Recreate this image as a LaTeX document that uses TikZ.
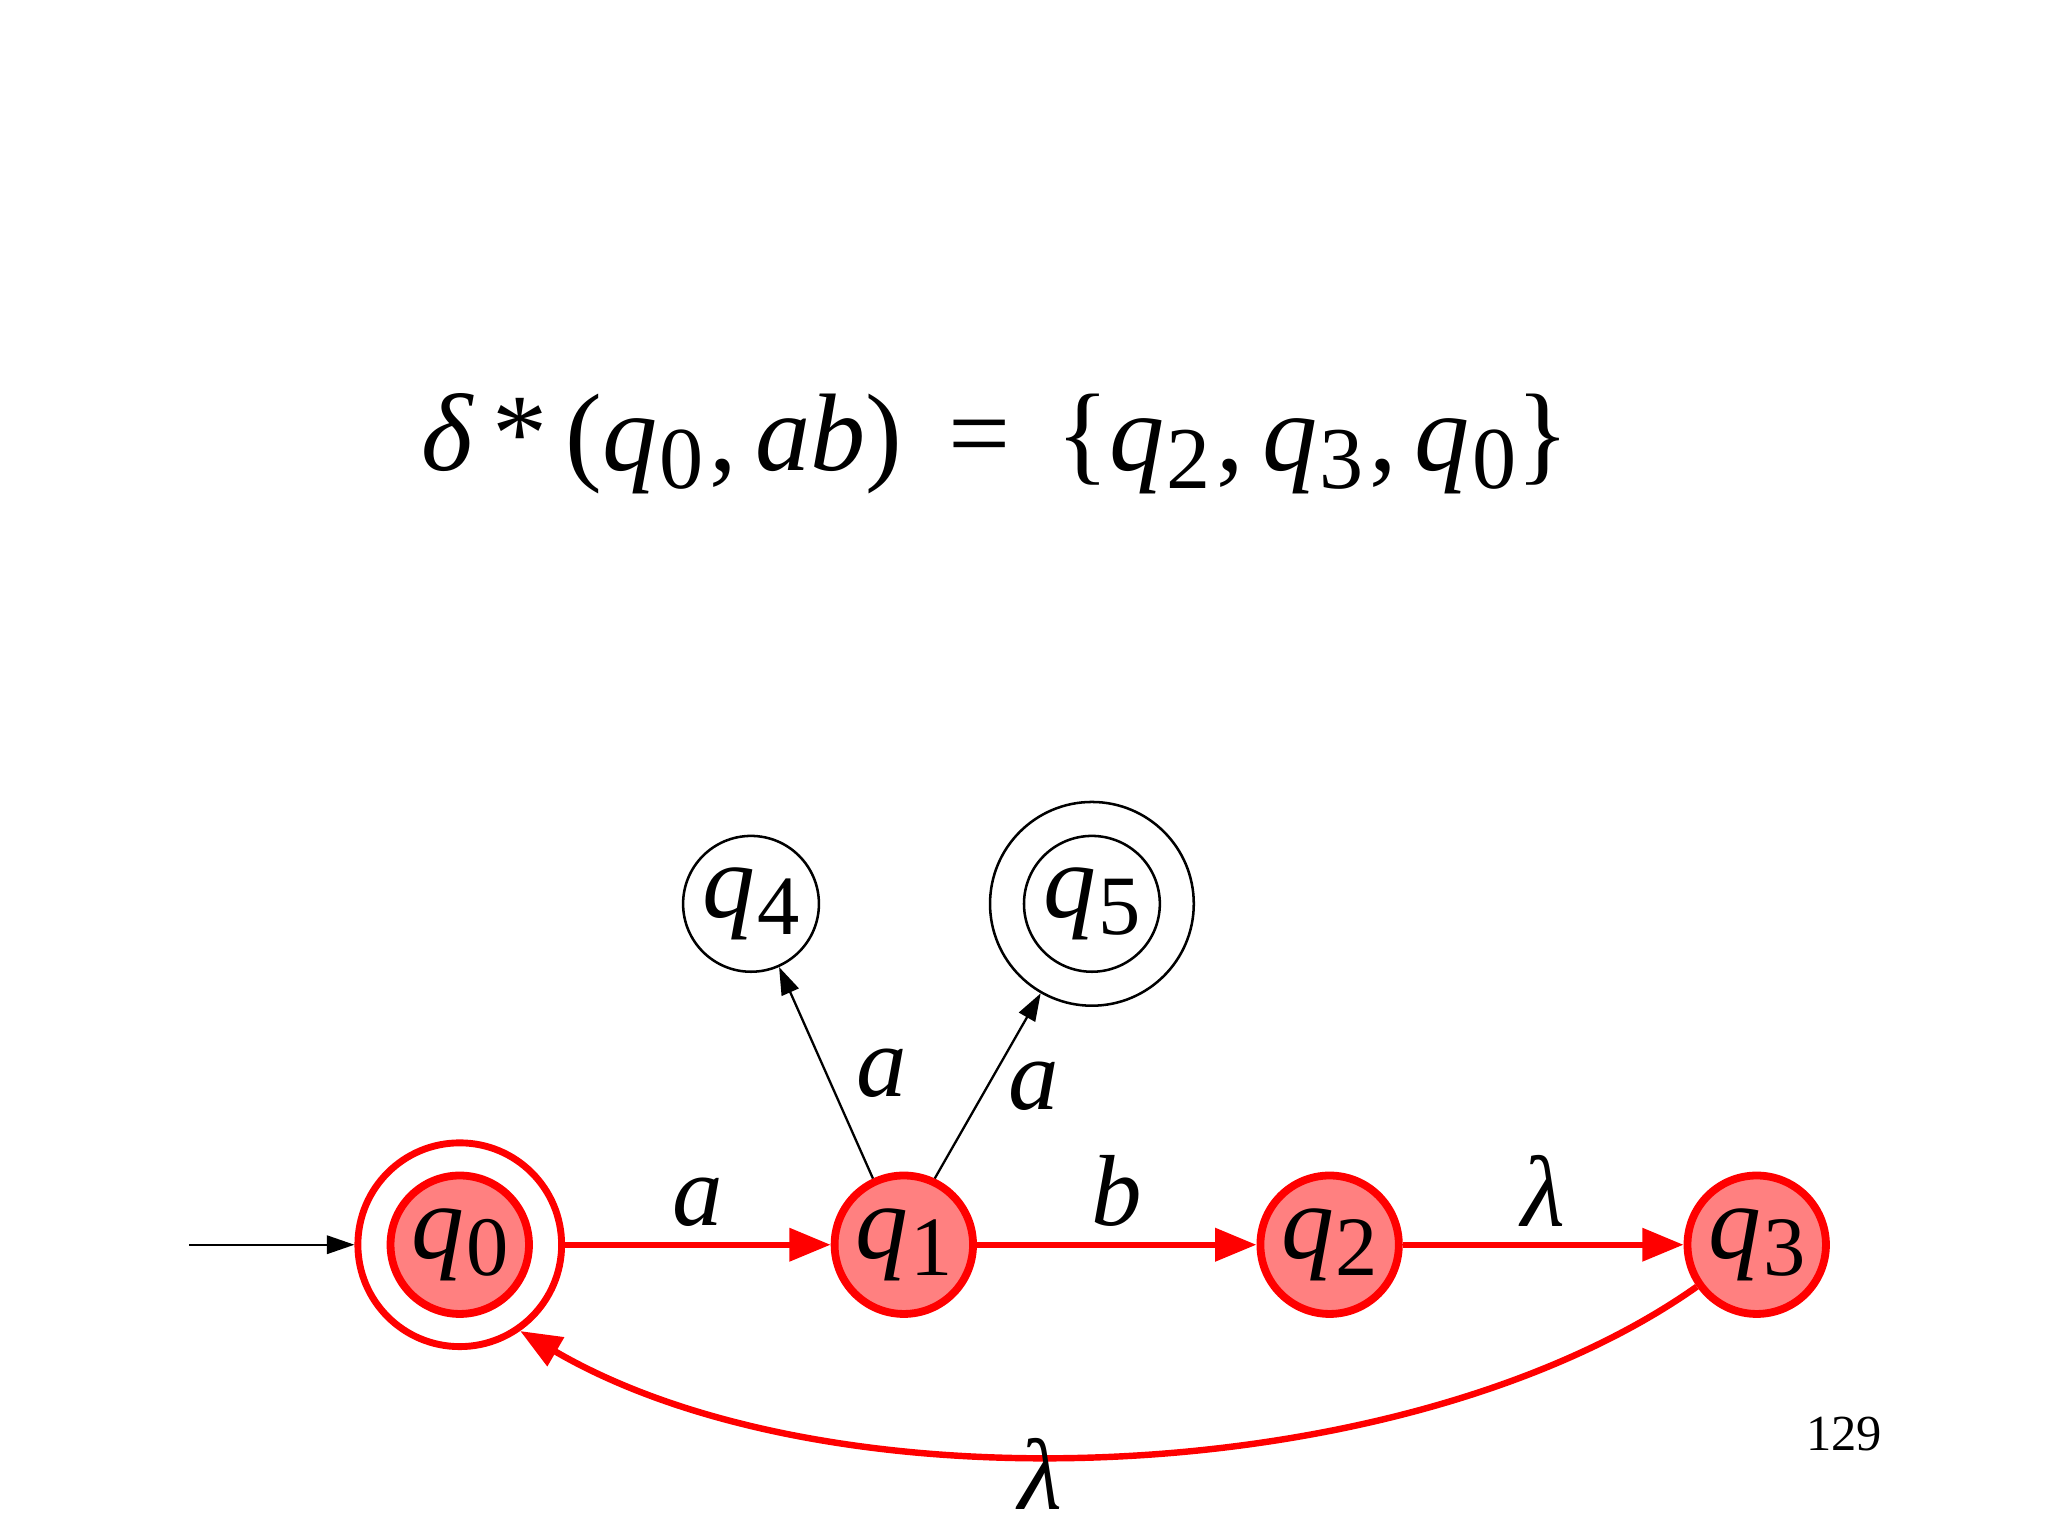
\documentclass[tikz,border=0pt]{standalone}
\usepackage{fontspec}
\setmainfont{Liberation Serif}
\usetikzlibrary{arrows.meta}
\newcommand{\qs}[1]{\textit{q}\kern0.02em\raisebox{-0.35ex}{\scalebox{0.8}{#1}}}
\begin{document}
\begin{tikzpicture}[x=0.01cm,y=-0.01cm,
  st/.style={circle,draw=red,line width=1.7pt,fill=red!50!white,minimum size=106*0.01cm,inner sep=0pt,font=\fontsize{23}{25}\selectfont},
  wst/.style={circle,draw=black,line width=0.55pt,minimum size=104*0.01cm,inner sep=0pt,font=\fontsize{23}{25}\selectfont},
  ring/.style={circle,minimum size=156*0.01cm,inner sep=0pt},
  redge/.style={draw=red,line width=1.4pt,-{Triangle[length=9pt,width=7pt]}},
  bedge/.style={draw=black,line width=0.5pt,-{Triangle[length=6pt,width=4pt]}},
  lab/.style={font=\fontsize{22}{24}\selectfont\itshape}]
\useasboundingbox (0,0) rectangle (1568,1176);
\node[font=\fontsize{24}{26}\selectfont] (f) at (762,340) {\textit{δ}\,*\,(\qs{0}\kern0.05em,\,\textit{ab}) \,=\, \{\qs{2}\kern0.05em,\,\qs{3}\kern0.05em,\,\qs{0}\}};
\node[st] (q0) at (352,953) {\qs{0}};
\node[ring,draw=red,line width=1.5pt] (q0o) at (352,953) {};
\node[st] (q1) at (692,953) {\qs{1}};
\node[st] (q2) at (1018,953) {\qs{2}};
\node[st] (q3) at (1345,953) {\qs{3}};
\node[wst] (q4) at (575,692) {\qs{4}};
\node[wst] (q5) at (836,692) {\qs{5}};
\node[ring,draw=black,line width=0.55pt] (q5o) at (836,692) {};
\coordinate (s) at (145,953);
\draw[bedge] (s) -- (q0o);
\draw[redge] (q0o) -- node[lab,above=0pt]{a} (q1);
\draw[redge] (q1) -- node[lab,above=0pt]{b} (q2);
\draw[redge] (q2) -- node[lab,above=0pt]{λ} (q3);
\draw[bedge] (q1.115) -- node[lab,right=3pt]{a} (q4);
\draw[bedge] (q1.65) -- node[lab,right=1pt]{a} (q5o);
\draw[redge] (q3.-145) .. controls (1080,1140) and (640,1160) .. node[lab,pos=0.56,above=-16pt]{λ} (q0o.-55);
\node[font=\fontsize{11}{13}\selectfont] (pg) at (1412,1098) {129};
\end{tikzpicture}
\end{document}
